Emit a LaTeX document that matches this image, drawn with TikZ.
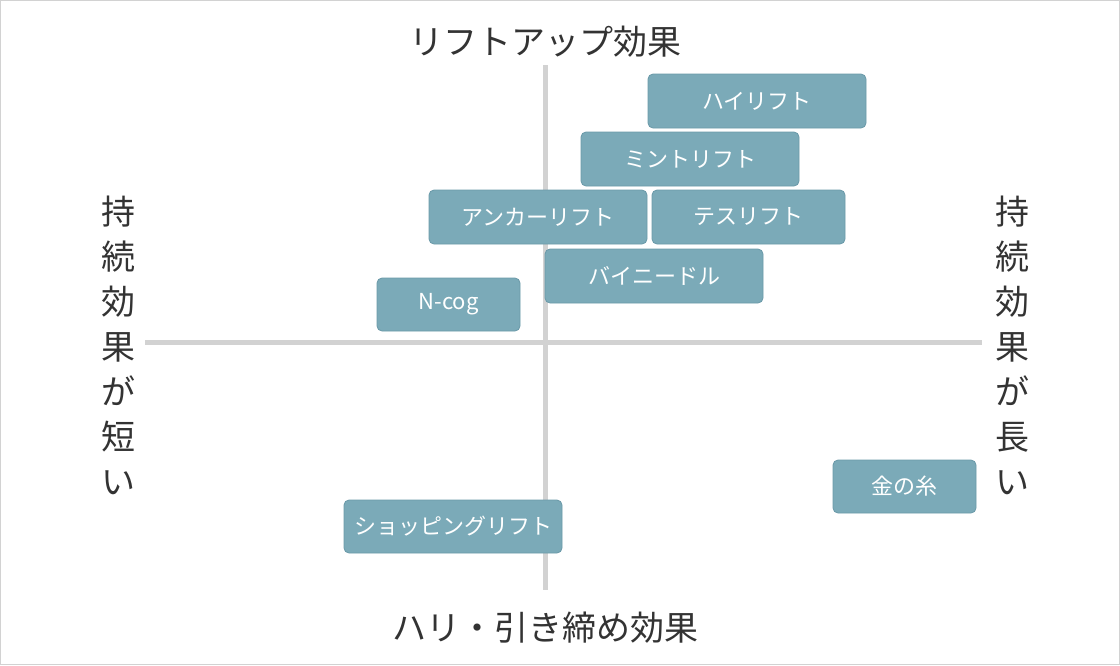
\documentclass[tikz,border=0pt]{standalone}
\usepackage{fontspec}
\setmainfont{Noto Sans CJK JP}
\definecolor{boxc}{HTML}{7BAAB8}
\definecolor{boxb}{HTML}{6A99A8}
\definecolor{axc}{HTML}{D2D2D2}
\definecolor{txt}{HTML}{333333}
\begin{document}
\begin{tikzpicture}[x=1pt,y=-1pt,
  item/.style={draw=boxb,fill=boxc,rounded corners=5pt,line width=0.8pt,text=white,inner sep=0pt,font=\fontsize{22}{26}\selectfont},
  axlab/.style={text=txt,font=\fontsize{34}{40}\selectfont,inner sep=0pt},
  vlab/.style={text=txt,font=\fontsize{34}{45}\selectfont,inner sep=0pt,align=center}]
\useasboundingbox (0,0) rectangle (1120,665);
\draw[draw=axc,line width=1pt] (0.5,0.5) rectangle (1119.5,664.5);
\coordinate (vt) at (545,65); \coordinate (vb) at (545,590);
\coordinate (hl) at (145,342); \coordinate (hr) at (982,342);
\draw[axc,line width=5pt] (vt) -- (vb);
\draw[axc,line width=5pt] (hl) -- (hr);
\node[axlab] (top) at (545,42) {リフトアップ効果};
\node[axlab] (bot) at (545,628) {ハリ・引き締め効果};
\node[vlab] (lft) at (118,345) {持\\続\\効\\果\\が\\短\\い};
\node[vlab] (rgt) at (1012,345) {持\\続\\効\\果\\が\\長\\い};
\node[item,minimum width=218pt,minimum height=54pt] (a) at (757,101) {ハイリフト};
\node[item,minimum width=218pt,minimum height=54pt] (b) at (690,159) {ミントリフト};
\node[item,minimum width=218pt,minimum height=54pt] (c) at (538,217) {アンカーリフト};
\node[item,minimum width=193pt,minimum height=54pt] (d) at (748.5,217) {テスリフト};
\node[item,minimum width=218pt,minimum height=54pt] (e) at (654,276) {バイニードル};
\node[item,minimum width=143pt,minimum height=53pt] (f) at (448.5,304.5) {N-cog};
\node[item,minimum width=143pt,minimum height=53pt] (g) at (904.5,486.5) {金の糸};
\node[item,minimum width=218pt,minimum height=53pt] (h) at (453,526.5) {ショッピングリフト};
\end{tikzpicture}
\end{document}
